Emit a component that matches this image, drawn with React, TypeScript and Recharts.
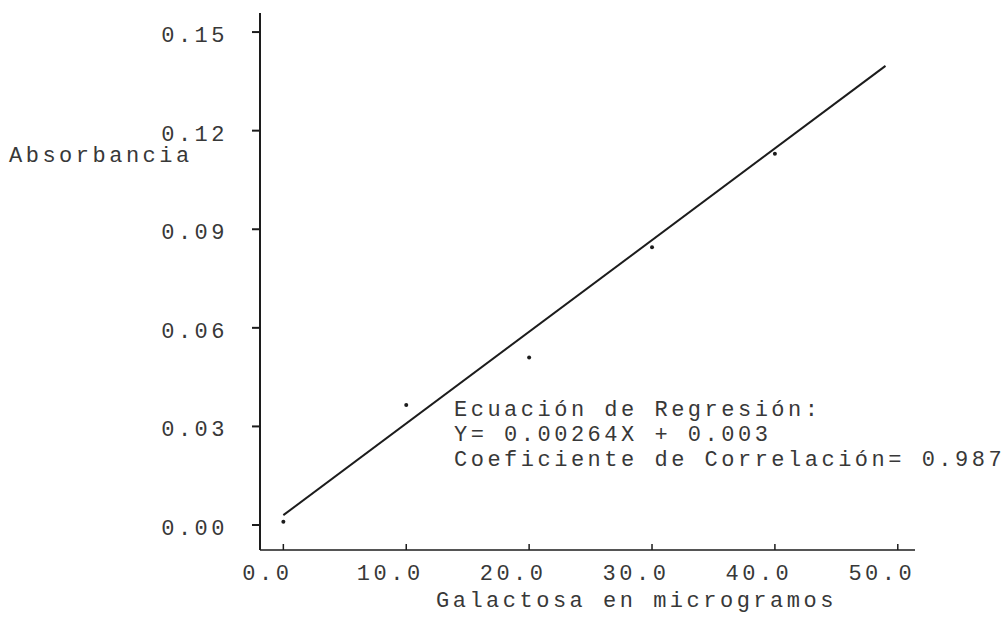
import React from "react";
import { ComposedChart, Scatter, XAxis, YAxis } from "recharts";

// Galactosa (microgramos) vs absorbancia
const galactosa = [0, 10, 20, 30, 40];
const absorbancia = [0.001, 0.0365, 0.051, 0.0845, 0.113];

// recta de regresion tal como esta dibujada (extremos)
const rectaX = [0, 49];
const rectaY = [0.003, 0.1397];

const xTicks = [0, 10, 20, 30, 40, 50];
const yTicks = [0, 0.03, 0.06, 0.09, 0.12, 0.15];

const tituloY = "Absorbancia";
const tituloX = "Galactosa en microgramos";
const notas = [
  "Ecuación de Regresión:",
  "Y= 0.00264X + 0.003",
  "Coeficiente de Correlación= 0.987",
];

const puntos = galactosa.map((x, i) => ({ x, y: absorbancia[i] }));
const recta = rectaX.map((x, i) => ({ x, y: rectaY[i] }));

const FONT = "'Liberation Mono', 'DejaVu Sans Mono', monospace";
const INK = "#1c1c1c";
const TEXT = "#383838";

const txtStyle: React.CSSProperties = {
  fontFamily: FONT,
  fontSize: 22,
  letterSpacing: "3.5px",
};

const XTick = ({ x, y, payload }: any) => (
  <g>
    <line x1={x} x2={x} y1={y} y2={y - 6} stroke={INK} strokeWidth={1.5} />
    <text x={x - 16} y={y + 30} textAnchor="middle" fill={TEXT} style={txtStyle}>
      {Number(payload.value).toFixed(1)}
    </text>
  </g>
);

const YTick = ({ x, y, payload }: any) => (
  <g>
    <line x1={x} x2={x - 8} y1={y} y2={y} stroke={INK} strokeWidth={2} />
    <text x={x - 32} y={y + 10} textAnchor="end" fill={TEXT} style={txtStyle}>
      {Number(payload.value).toFixed(2)}
    </text>
  </g>
);

const Punto = ({ cx, cy }: any) => <circle cx={cx} cy={cy} r={2} fill={INK} />;
const Nada = () => <g />;

const overlay = (left: number, top: number, text: string, key?: number) => (
  <div
    key={key}
    style={{
      position: "absolute",
      left,
      top,
      whiteSpace: "pre",
      lineHeight: "22px",
      color: TEXT,
      ...txtStyle,
    }}
  >
    {text}
  </div>
);

export default function App() {
  return (
    <div style={{ position: "absolute", left: 0, top: 0, width: 1008, height: 621, background: "#fff" }}>
      <ComposedChart
        width={1008}
        height={621}
        margin={{ top: 13, right: 93, bottom: 31, left: 200 }}
      >
        <XAxis
          type="number"
          dataKey="x"
          domain={[-1.9, 51.4]}
          ticks={xTicks}
          allowDataOverflow
          height={40}
          axisLine={{ stroke: INK, strokeWidth: 1.5 }}
          tickLine={false}
          tickSize={0}
          tickMargin={0}
          tick={<XTick />}
        />
        <YAxis
          type="number"
          dataKey="y"
          domain={[-0.0076, 0.1558]}
          ticks={yTicks}
          allowDataOverflow
          width={60}
          axisLine={{ stroke: INK, strokeWidth: 2 }}
          tickLine={false}
          tickSize={0}
          tickMargin={0}
          tick={<YTick />}
        />
        <Scatter
          data={recta}
          line={{ stroke: INK, strokeWidth: 2 }}
          shape={<Nada />}
          isAnimationActive={false}
          legendType="none"
        />
        <Scatter data={puntos} shape={<Punto />} isAnimationActive={false} legendType="none" />
      </ComposedChart>
      {overlay(9, 146, tituloY)}
      {overlay(436, 591, tituloX)}
      {notas.map((n, i) => overlay(454, 400 + i * 25, n, i))}
    </div>
  );
}
